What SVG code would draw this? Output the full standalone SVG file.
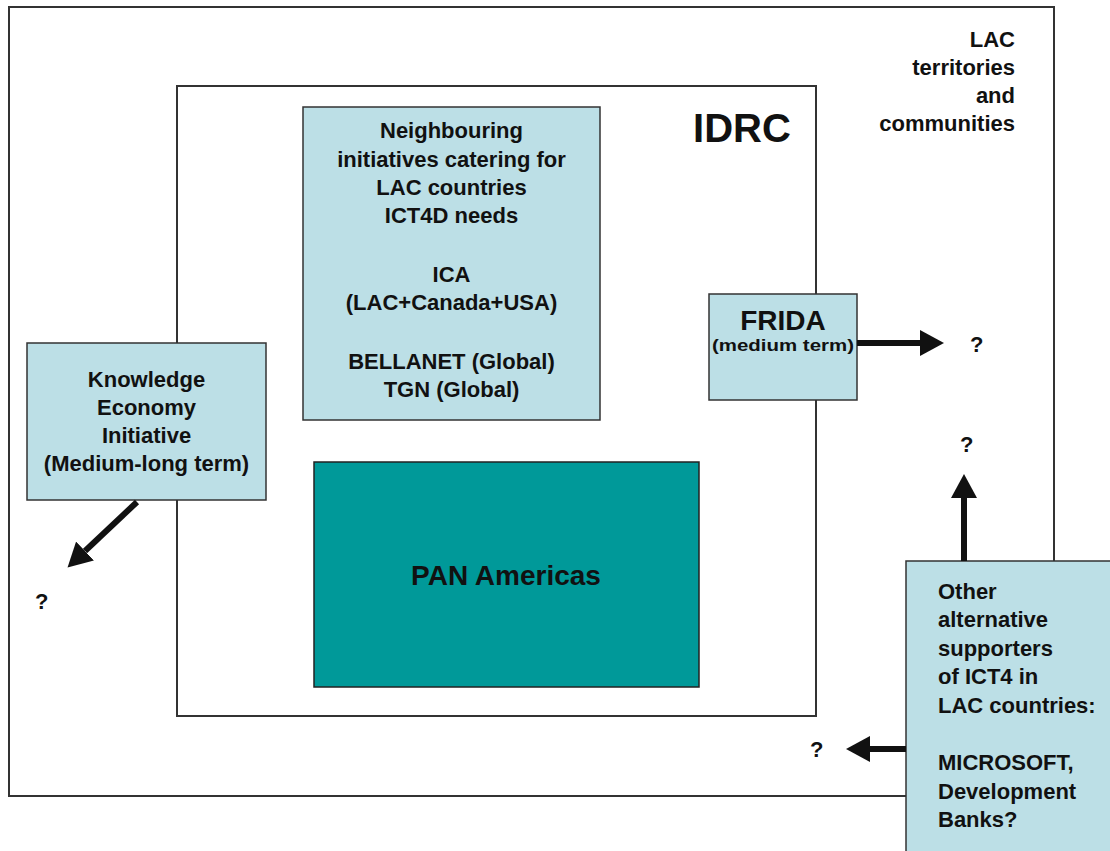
<svg xmlns="http://www.w3.org/2000/svg" width="1110" height="851" viewBox="0 0 1110 851">
<style>
.frame{fill:#fff;stroke:#333;stroke-width:2}
.box{fill:#bcdfe6;stroke:#333;stroke-width:1.5}
.pan{fill:#009999;stroke:#222;stroke-width:1.5}
text{font-family:"Liberation Sans",Arial,sans-serif;font-weight:bold;fill:#111}
.t{font-size:22px}
.c{text-anchor:middle}
.r{text-anchor:end}
.arr{stroke:#111;stroke-width:6;fill:none;marker-end:url(#ah)}
</style>
<defs>
<marker id="ah" markerUnits="userSpaceOnUse" markerWidth="25" markerHeight="26" refX="0" refY="13" orient="auto">
<path d="M0,0 L24,13 L0,26 z" fill="#111"/>
</marker>
</defs>
<rect width="1110" height="851" fill="#fff"/>
<g id="lac-territories">
<rect class="frame" x="9" y="7" width="1045" height="789"/>
<text class="t r" x="1015" y="47">LAC</text>
<text class="t r" x="1015" y="75">territories</text>
<text class="t r" x="1015" y="103">and</text>
<text class="t r" x="1015" y="131">communities</text>
</g>
<g id="idrc">
<rect class="frame" x="177" y="86" width="639" height="630"/>
<text x="742" y="142" class="c" style="font-size:40px">IDRC</text>
</g>
<g id="neighbouring">
<rect class="box" x="303" y="107" width="297" height="313"/>
<text class="t c" x="451.5" y="138">Neighbouring</text>
<text class="t c" x="451.5" y="167">initiatives catering for</text>
<text class="t c" x="451.5" y="195">LAC countries</text>
<text class="t c" x="451.5" y="223">ICT4D needs</text>
<text class="t c" x="451.5" y="282">ICA</text>
<text class="t c" x="451.5" y="310">(LAC+Canada+USA)</text>
<text class="t c" x="451.5" y="369">BELLANET (Global)</text>
<text class="t c" x="451.5" y="397">TGN (Global)</text>
</g>
<g id="knowledge">
<rect class="box" x="27" y="343" width="239" height="157"/>
<text class="t c" x="146.5" y="387">Knowledge</text>
<text class="t c" x="146.5" y="415">Economy</text>
<text class="t c" x="146.5" y="443">Initiative</text>
<text class="t c" x="146.5" y="471">(Medium-long term)</text>
</g>
<g id="frida">
<rect class="box" x="709" y="294" width="148" height="106"/>
<text class="c" x="783" y="330" style="font-size:28px">FRIDA</text>
<text class="c" x="783" y="351" style="font-size:17px" textLength="142" lengthAdjust="spacingAndGlyphs">(medium term)</text>
</g>
<g id="pan-americas">
<rect class="pan" x="314" y="462" width="385" height="225"/>
<text class="c" x="506" y="585" style="font-size:28px">PAN Americas</text>
</g>
<g id="other-supporters">
<rect class="box" x="906" y="561" width="210" height="300"/>
<text class="t" x="938" y="599">Other</text>
<text class="t" x="938" y="627">alternative</text>
<text class="t" x="938" y="656">supporters</text>
<text class="t" x="938" y="684">of ICT4 in</text>
<text class="t" x="938" y="713">LAC countries:</text>
<text class="t" x="938" y="770">MICROSOFT,</text>
<text class="t" x="938" y="799">Development</text>
<text class="t" x="938" y="827">Banks?</text>
</g>
<g id="connectors">
<line class="arr" x1="857" y1="343" x2="920" y2="343"/>
<line class="arr" x1="964" y1="561" x2="964" y2="498"/>
<line class="arr" x1="906" y1="749" x2="870" y2="749"/>
<line class="arr" x1="137" y1="502" x2="85" y2="551"/>
</g>
<g id="question-marks">
<text class="t" x="970" y="352">?</text>
<text class="t" x="960" y="452">?</text>
<text class="t" x="810" y="757">?</text>
<text class="t" x="35" y="609">?</text>
</g>
</svg>
